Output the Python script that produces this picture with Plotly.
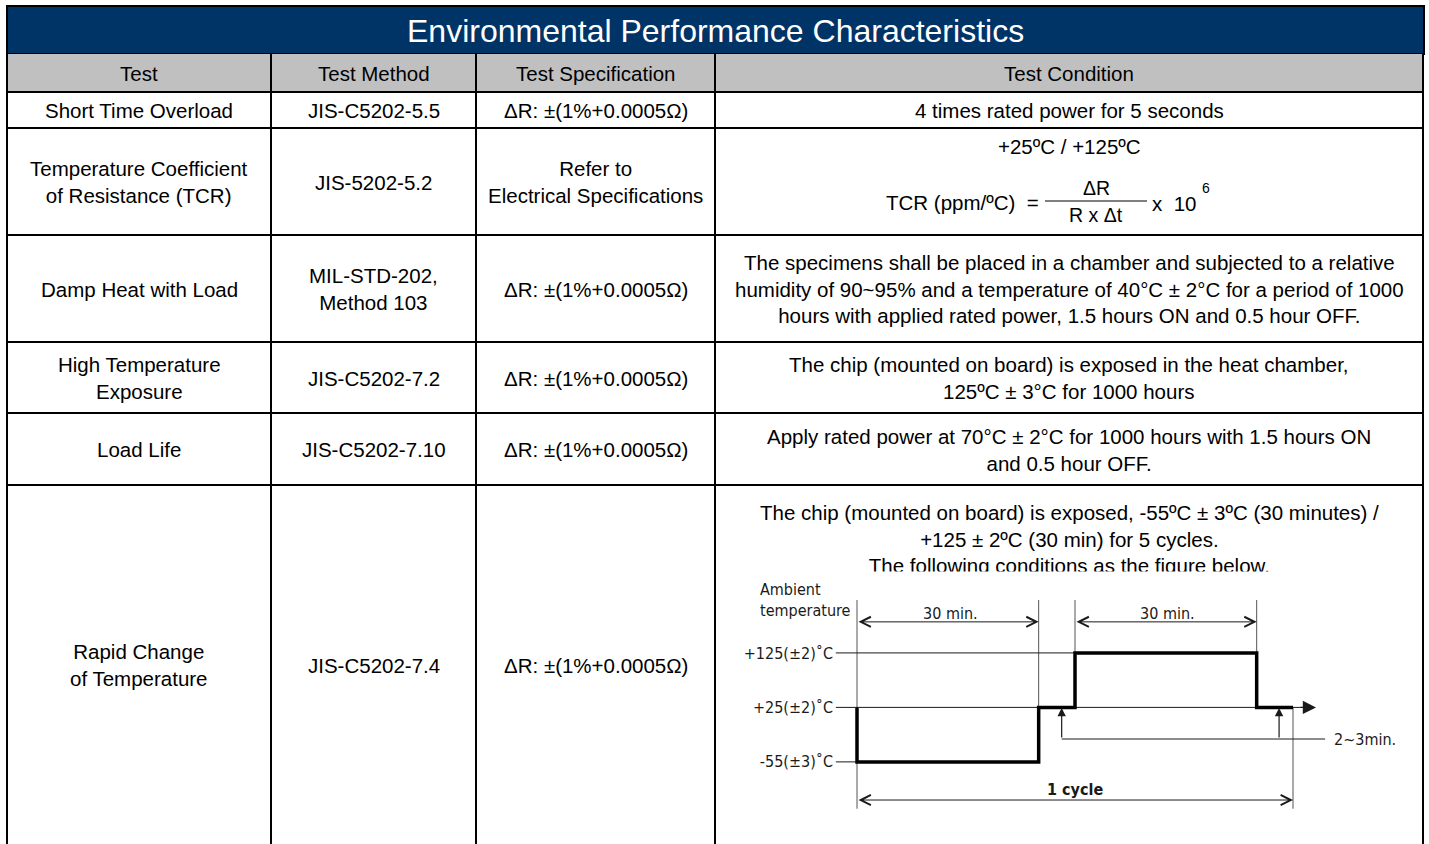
import plotly.graph_objects as go

W, H = 1429, 844

# ---------------- data ----------------
title = "Environmental Performance Characteristics"
headers = ["Test", "Test Method", "Test Specification", "Test Condition"]
tests = ["Short Time Overload",
         "Temperature Coefficient<br>of Resistance (TCR)",
         "Damp Heat with Load",
         "High Temperature<br>Exposure",
         "Load Life",
         "Rapid Change<br>of Temperature"]
methods = ["JIS-C5202-5.5",
           "JIS-5202-5.2",
           "MIL-STD-202,<br>Method 103",
           "JIS-C5202-7.2",
           "JIS-C5202-7.10",
           "JIS-C5202-7.4"]
specs = ["ΔR: ±(1%+0.0005Ω)",
         "Refer to<br>Electrical Specifications",
         "ΔR: ±(1%+0.0005Ω)",
         "ΔR: ±(1%+0.0005Ω)",
         "ΔR: ±(1%+0.0005Ω)",
         "ΔR: ±(1%+0.0005Ω)"]
conditions = ["4 times rated power for 5 seconds",
              None,
              "The specimens shall be placed in a chamber and subjected to a relative<br>"
              "humidity of 90~95% and a temperature of 40°C ± 2°C for a period of 1000<br>"
              "hours with applied rated power, 1.5 hours ON and 0.5 hour OFF.",
              "The chip (mounted on board) is exposed in the heat chamber,<br>"
              "125ºC ± 3°C for 1000 hours",
              "Apply rated power at 70°C ± 2°C for 1000 hours with 1.5 hours ON<br>"
              "and 0.5 hour OFF.",
              "The chip (mounted on board) is exposed, -55ºC ± 3ºC (30 minutes) /<br>"
              "+125 ± 2ºC (30 min) for 5 cycles.<br>"
              "The following conditions as the figure below."]
tcr_range = "+25ºC / +125ºC"
tcr_lhs = "TCR (ppm/ºC)  ="
tcr_num = "ΔR"
tcr_den = "R x Δt"
tcr_mult = "x  10"
tcr_exp = "6"

# thermal-shock diagram (schematic)
temp_labels = ["-55(±3)˚C", "+25(±2)˚C", "+125(±2)˚C"]
temp_levels = [0, 1, 2]
profile_t = [0, 0, 30, 30, 36, 36, 66, 66, 72]
profile_lvl = [1, 0, 0, 1, 1, 2, 2, 1, 1]
guide_end = [0, 73.5, 36]
phase_edges = [0, 30, 36, 66, 72]
dwell_label = "30 min."
transfer_label = "2~3min."
cycle_label = "1 cycle"
axis_label = "Ambient<br>temperature"

# ---------------- layout geometry (px) ----------------
col_edges = [7, 271, 476, 715, 1423]
row_edges = [92, 128, 235, 342, 413, 485, 844]
title_top, title_bot = 6, 54

FONT = "Liberation Sans, Arial, Helvetica, sans-serif"
NARROW = "Liberation Sans Narrow, Arial Narrow, DejaVu Sans Condensed, sans-serif"
FS = 20.5
NAVY = "#003366"
GREY = "#C0C0C0"

fig = go.Figure()
shapes = []
ann = []

# title bar
shapes.append(dict(type="rect", xref="x", yref="y", x0=col_edges[0], x1=col_edges[-1] + 1,
                   y0=title_top, y1=title_bot, fillcolor=NAVY, line=dict(color="black", width=2)))
ann.append(dict(x=(col_edges[0] + col_edges[-1]) / 2, y=(title_top + title_bot) / 2 + 1, text=title,
                font=dict(family=FONT, size=32, color="white")))
# header
shapes.append(dict(type="rect", xref="x", yref="y", x0=col_edges[0], x1=col_edges[-1],
                   y0=title_bot, y1=row_edges[0], fillcolor=GREY, line=dict(width=0)))
for i, h in enumerate(headers):
    ann.append(dict(x=(col_edges[i] + col_edges[i + 1]) / 2, y=(title_bot + row_edges[0]) / 2 + 0.5,
                    text=h, font=dict(family=FONT, size=FS, color="black")))

# grid lines
for yv in row_edges[:-1]:
    shapes.append(dict(type="line", xref="x", yref="y", x0=col_edges[0], x1=col_edges[-1],
                       y0=yv, y1=yv, line=dict(color="black", width=2)))
for xv in col_edges:
    shapes.append(dict(type="line", xref="x", yref="y", x0=xv, x1=xv,
                       y0=title_bot, y1=H, line=dict(color="black", width=2)))

# cell texts
for r in range(len(tests)):
    yc = (row_edges[r] + row_edges[r + 1]) / 2
    for c, col in enumerate([tests, methods, specs]):
        ann.append(dict(x=(col_edges[c] + col_edges[c + 1]) / 2, y=yc + 0.5, text=col[r],
                        font=dict(family=FONT, size=FS, color="black")))
    cond = conditions[r]
    if cond is not None:
        yy = yc + 0.5 if r < 5 else 539
        ann.append(dict(x=(col_edges[3] + col_edges[4]) / 2, y=yy, text=cond,
                        font=dict(family=FONT, size=FS, color="black")))

# the reference crops the last text line slightly where the figure begins
ann.append(dict(x=(col_edges[3] + col_edges[4]) / 2, y=575, text=" ", width=560, height=7,
                bgcolor="white", borderpad=0, font=dict(size=4)))

# TCR formula
cx = (col_edges[3] + col_edges[4]) / 2
ann += [
    dict(x=cx, y=146, text=tcr_range, font=dict(family=FONT, size=FS, color="black")),
    dict(x=1041, y=202, text=tcr_lhs, xanchor="right", font=dict(family=FONT, size=FS, color="black")),
    dict(x=1096, y=188, text=tcr_num, font=dict(family=FONT, size=FS - 1, color="black")),
    dict(x=1096, y=215, text=tcr_den, font=dict(family=FONT, size=FS - 1, color="black")),
    dict(x=1150, y=203, text=tcr_mult, xanchor="left", font=dict(family=FONT, size=FS, color="black")),
    dict(x=1206, y=188, text=tcr_exp, font=dict(family=FONT, size=14, color="black")),
]
shapes.append(dict(type="line", xref="x", yref="y", x0=1045, x1=1147, y0=201, y1=201,
                   line=dict(color="black", width=1.2)))

for a in ann:
    a.setdefault("xref", "x")
    a.setdefault("yref", "y")
    a.setdefault("showarrow", False)

# ---------------- diagram on its own axes ----------------
DK = "#1a1a1a"
ext_top = 2.97
ext = [(0, ext_top, -0.86), (30, ext_top, 1), (36, ext_top, 2), (66, ext_top, 1), (72, 1, -0.86)]
for xv, y0, y1 in ext:
    fig.add_trace(go.Scatter(x=[xv, xv], y=[y0, y1], mode="lines", xaxis="x2", yaxis="y2",
                             line=dict(color="#555555", width=1), hoverinfo="skip", showlegend=False))
for lvl, xe in zip(temp_levels, guide_end):
    fig.add_trace(go.Scatter(x=[-3.5, xe], y=[lvl, lvl], mode="lines", xaxis="x2", yaxis="y2",
                             line=dict(color=DK, width=1), hoverinfo="skip", showlegend=False))
fig.add_trace(go.Scatter(x=[33.8, 77.3], y=[0.42, 0.42], mode="lines", xaxis="x2", yaxis="y2",
                         line=dict(color=DK, width=1), hoverinfo="skip", showlegend=False))
fig.add_trace(go.Scatter(x=profile_t, y=profile_lvl, mode="lines", xaxis="x2", yaxis="y2",
                         line=dict(color="black", width=3.5, shape="linear"),
                         hoverinfo="skip", showlegend=False))

d_ann = []
def arrow(x0, y0, x1, y1, head=5, both=True, size=2.0, width=1):
    d = dict(x=x1, y=y1, ax=x0, ay=y0, xref="x2", yref="y2", axref="x2", ayref="y2",
             text="", showarrow=True, arrowhead=head, arrowsize=size, arrowwidth=width,
             arrowcolor=DK, standoff=0, startstandoff=0)
    if both:
        d.update(arrowside="end+start", startarrowhead=head, startarrowsize=size)
    return d

d_ann.append(arrow(phase_edges[0], 2.57, phase_edges[1], 2.57))
d_ann.append(arrow(phase_edges[2], 2.57, phase_edges[3], 2.57))
d_ann.append(arrow(phase_edges[0], -0.70, phase_edges[4], -0.70))
d_ann.append(arrow(73, 1, 75.8, 1, head=2, both=False, size=2.2, width=1.2))
d_ann.append(arrow(33.8, 0.42, 33.8, 0.99, head=2, both=False, size=1.4, width=1.2))
d_ann.append(arrow(69.7, 0.42, 69.7, 0.99, head=2, both=False, size=1.4, width=1.2))

tf = dict(family=NARROW, size=16, color=DK)
d_ann += [
    dict(x=15.5, y=2.73, text=dwell_label, font=tf),
    dict(x=51.2, y=2.73, text=dwell_label, font=tf),
    dict(x=78.4, y=0.42, text=transfer_label, xanchor="left", font=tf),
    dict(x=36, y=-0.51, text="<b>" + cycle_label + "</b>", font=tf),
    dict(x=-16.4, y=2.97, text=axis_label, xanchor="left", align="left", font=tf),
]
for a in d_ann:
    a.setdefault("xref", "x2")
    a.setdefault("yref", "y2")
    a.setdefault("showarrow", False)

fig.update_layout(
    width=W, height=H, margin=dict(l=0, r=0, t=0, b=0),
    paper_bgcolor="white", plot_bgcolor="white", showlegend=False,
    xaxis=dict(range=[0, W], domain=[0, 1], visible=False, fixedrange=True),
    yaxis=dict(range=[H, 0], domain=[0, 1], visible=False, fixedrange=True),
    xaxis2=dict(range=[-19.32, 92.97], domain=[740 / W, 1420 / W], anchor="y2",
                showgrid=False, zeroline=False, showline=False, showticklabels=False, fixedrange=True),
    yaxis2=dict(range=[-1.25, 3.43], domain=[1 - 830 / H, 1 - 575 / H], anchor="free",
                position=833 / W, tickvals=temp_levels, ticktext=temp_labels, ticks="",
                showgrid=False, zeroline=False, showline=False, fixedrange=True,
                tickfont=dict(family=NARROW, size=16, color=DK)),
    shapes=shapes,
    annotations=ann + d_ann,
)

fig.write_html("out.html",
               config={"displayModeBar": False, "staticPlot": True},
               post_script="document.body.style.margin='0';"
                           "document.body.style.overflow='hidden';"
                           "document.documentElement.style.overflow='hidden';")
